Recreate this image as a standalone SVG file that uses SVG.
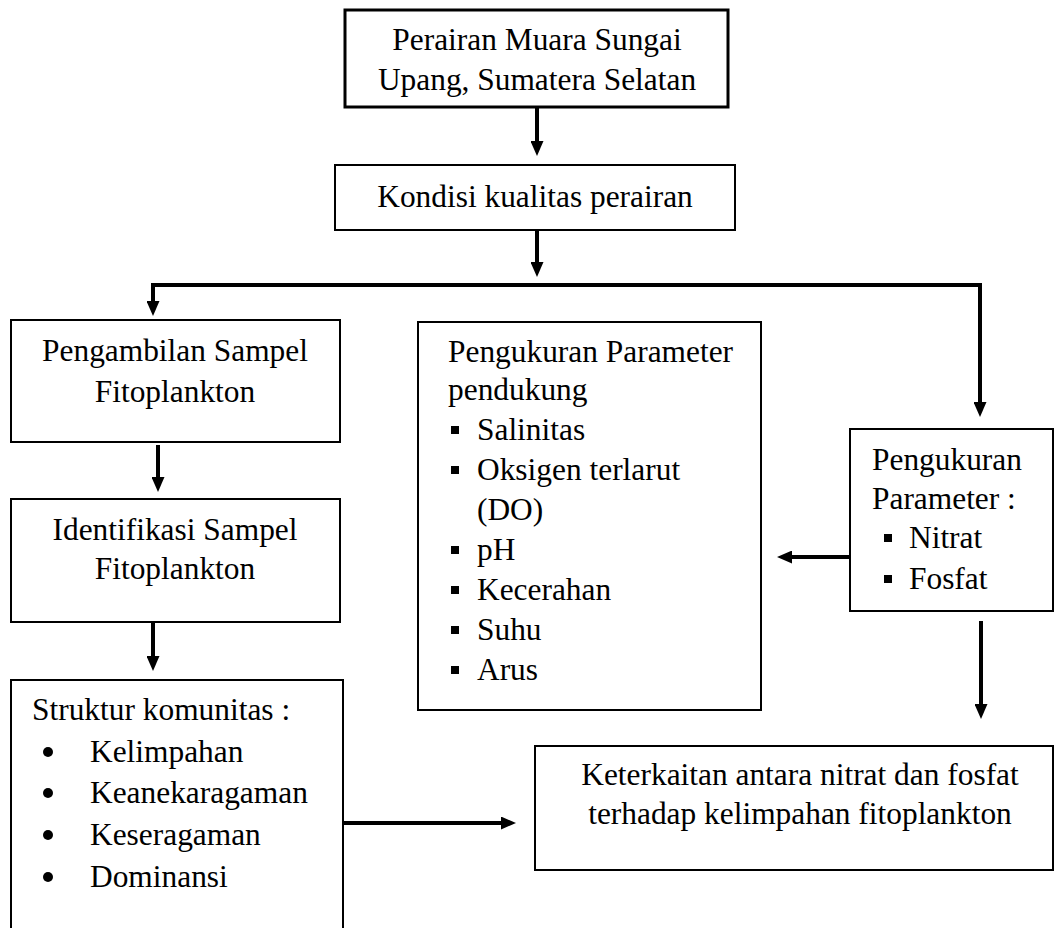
<svg xmlns="http://www.w3.org/2000/svg" width="1055" height="928" viewBox="0 0 1055 928">
  <style>
    .box { fill: #fff; stroke: #000; stroke-width: 2; }
    .box.thick { stroke-width: 3; }
    .t { font-family: "Liberation Serif", "Times New Roman", serif; font-size: 31.4px; fill: #000; }
    .c { text-anchor: middle; }
    .conn { fill: none; stroke: #000; stroke-width: 4; }
    .sq { fill: #000; }
    .dot { fill: #000; }
  </style>
  <defs>
    <marker id="ah" viewBox="0 0 15 13" markerWidth="15" markerHeight="13" refX="1" refY="6.5" orient="auto-start-reverse" markerUnits="userSpaceOnUse">
      <path d="M0,0 L15,6.5 L0,13 z" fill="#000"/>
    </marker>
  </defs>
  <rect width="1055" height="928" fill="#fff"/>

  <g id="connectors">
    <line class="conn" x1="537" y1="107" x2="537" y2="142" marker-end="url(#ah)"/>
    <line class="conn" x1="537" y1="230" x2="537" y2="263" marker-end="url(#ah)"/>
    <path class="conn" d="M153,302 V285 H980 V403" marker-start="url(#ah)" marker-end="url(#ah)"/>
    <line class="conn" x1="158" y1="445" x2="158" y2="478" marker-end="url(#ah)"/>
    <line class="conn" x1="153" y1="623" x2="153" y2="657" marker-end="url(#ah)"/>
    <line class="conn" x1="343" y1="823" x2="502" y2="823" marker-end="url(#ah)"/>
    <line class="conn" x1="850" y1="557" x2="791" y2="557" marker-end="url(#ah)"/>
    <line class="conn" x1="981" y1="621" x2="981" y2="705" marker-end="url(#ah)"/>
  </g>

  <g id="node-perairan">
    <rect class="box thick" x="345" y="10" width="383" height="97"/>
    <text class="t c" x="537" y="50">Perairan Muara Sungai</text>
    <text class="t c" x="537" y="90">Upang, Sumatera Selatan</text>
  </g>

  <g id="node-kondisi">
    <rect class="box" x="335" y="165" width="400" height="65"/>
    <text class="t c" x="535" y="207">Kondisi kualitas perairan</text>
  </g>

  <g id="node-pengambilan">
    <rect class="box" x="11" y="320" width="329" height="122"/>
    <text class="t c" x="175" y="361">Pengambilan Sampel</text>
    <text class="t c" x="175" y="402">Fitoplankton</text>
  </g>

  <g id="node-identifikasi">
    <rect class="box" x="11" y="499" width="329" height="123"/>
    <text class="t c" x="175" y="540">Identifikasi Sampel</text>
    <text class="t c" x="175" y="579">Fitoplankton</text>
  </g>

  <g id="node-struktur">
    <rect class="box" x="11" y="680" width="332" height="270"/>
    <text class="t" x="32" y="720">Struktur komunitas :</text>
    <circle class="dot" cx="48" cy="752" r="5"/>
    <text class="t" x="90" y="762">Kelimpahan</text>
    <circle class="dot" cx="48" cy="793" r="5"/>
    <text class="t" x="90" y="803">Keanekaragaman</text>
    <circle class="dot" cx="48" cy="835" r="5"/>
    <text class="t" x="90" y="845">Keseragaman</text>
    <circle class="dot" cx="48" cy="877" r="5"/>
    <text class="t" x="90" y="887">Dominansi</text>
  </g>

  <g id="node-pendukung">
    <rect class="box" x="418" y="322" width="343" height="388"/>
    <text class="t" x="448" y="362">Pengukuran Parameter</text>
    <text class="t" x="448" y="400">pendukung</text>
    <rect class="sq" x="451" y="426" width="8" height="8"/>
    <text class="t" x="477" y="440">Salinitas</text>
    <rect class="sq" x="451" y="466" width="8" height="8"/>
    <text class="t" x="477" y="480">Oksigen terlarut</text>
    <text class="t" x="477" y="520">(DO)</text>
    <rect class="sq" x="451" y="546" width="8" height="8"/>
    <text class="t" x="477" y="560">pH</text>
    <rect class="sq" x="451" y="586" width="8" height="8"/>
    <text class="t" x="477" y="600">Kecerahan</text>
    <rect class="sq" x="451" y="626" width="8" height="8"/>
    <text class="t" x="477" y="640">Suhu</text>
    <rect class="sq" x="451" y="666" width="8" height="8"/>
    <text class="t" x="477" y="680">Arus</text>
  </g>

  <g id="node-parameter">
    <rect class="box" x="850" y="429" width="203" height="182"/>
    <text class="t" x="872" y="470">Pengukuran</text>
    <text class="t" x="872" y="509">Parameter :</text>
    <rect class="sq" x="884" y="534" width="8" height="8"/>
    <text class="t" x="909" y="548">Nitrat</text>
    <rect class="sq" x="884" y="575" width="8" height="8"/>
    <text class="t" x="909" y="589">Fosfat</text>
  </g>

  <g id="node-keterkaitan">
    <rect class="box" x="535" y="746" width="518" height="124"/>
    <text class="t c" x="800" y="785">Keterkaitan antara nitrat dan fosfat</text>
    <text class="t c" x="800" y="824">terhadap kelimpahan fitoplankton</text>
  </g>
</svg>
